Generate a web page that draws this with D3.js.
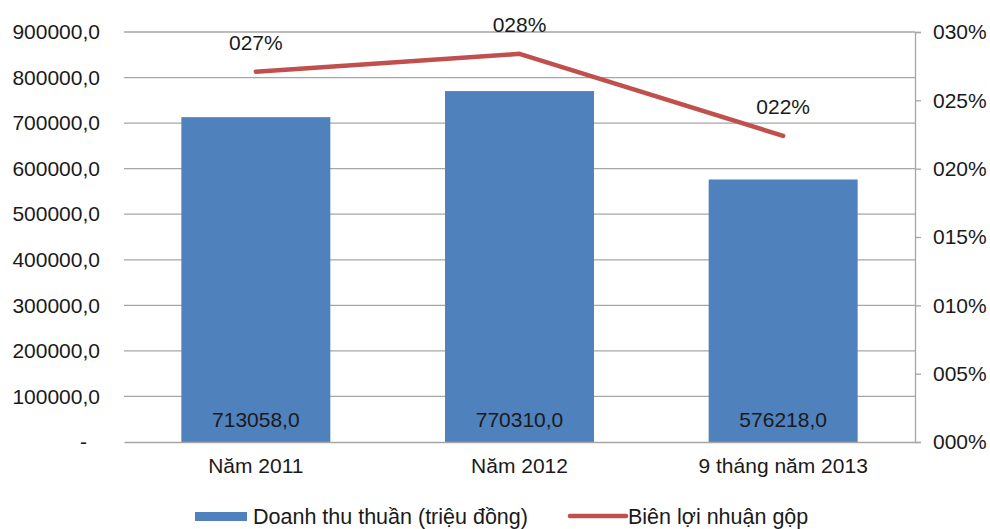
<!DOCTYPE html>
<html>
<head>
<meta charset="utf-8">
<script src="https://cdn.jsdelivr.net/npm/d3@7"></script>
<style>
  body { margin: 0; background: #fff; }
  text { font-family: "Liberation Sans", Arial, sans-serif; fill: #1a1a1a; }
</style>
</head>
<body>
<svg></svg>
<script>
let categories = ['Năm 2011', 'Năm 2012', '9 tháng năm 2013']
let revenue = [713058, 770310, 576218]
let margin = [0.271, 0.284, 0.224]
let leftTicks = [0, 100000, 200000, 300000, 400000, 500000, 600000, 700000, 800000, 900000]
let rightTicks = [0, 0.05, 0.10, 0.15, 0.20, 0.25, 0.30]
let legendLabels = ['Doanh thu thuần (triệu đồng)', 'Biên lợi nhuận gộp']

let width = 990
let height = 529
let plotLeft = 124
let plotRight = 915
let plotTop = 32
let plotBottom = 442

let svg = d3.select('svg')
   .attr('width', width)
   .attr('height', height)

let xScale = d3.scaleBand()
   .domain(categories)
   .range([plotLeft, plotRight])
   .paddingInner(0.435)
   .paddingOuter(0.2175)

let yScale = d3.scaleLinear()
   .domain([0, 900000])
   .range([plotBottom, plotTop])

let y2Scale = d3.scaleLinear()
   .domain([0, 0.30])
   .range([plotBottom, plotTop])

let pct = (v) => String(Math.round(v * 100)).padStart(3, '0') + '%'

// gridlines
svg.append('g')
   .selectAll('line')
   .data(leftTicks.slice(1))
   .enter()
   .append('line')
   .attr('x1', plotLeft)
   .attr('x2', plotRight)
   .attr('y1', (d) => yScale(d))
   .attr('y2', (d) => yScale(d))
   .attr('stroke', '#a6a6a6')
   .attr('stroke-width', 1.3)

// left axis
let yAxis = d3.axisLeft(yScale)
   .tickValues(leftTicks)
   .tickSize(0)
   .tickPadding(24)
   .tickFormat((d) => d === 0 ? '-' : d + ',0')

let gy = svg.append('g')
   .attr('transform', 'translate(' + plotLeft + ', 0)')
   .call(yAxis)
gy.select('.domain').remove()
gy.selectAll('text')
  .style('font-size', '21px')
  .attr('fill', '#1a1a1a')
gy.selectAll('.tick')
  .filter((d) => d === 0)
  .select('text')
  .attr('dx', -13)

// right axis
let y2Axis = d3.axisRight(y2Scale)
   .tickValues(rightTicks)
   .tickSize(6)
   .tickPadding(12)
   .tickFormat(pct)

let gy2 = svg.append('g')
   .attr('transform', 'translate(' + plotRight + ', 0)')
   .call(y2Axis)
gy2.select('.domain').attr('stroke', '#a6a6a6').attr('stroke-width', 1.3)
gy2.selectAll('line').attr('stroke', '#a6a6a6').attr('stroke-width', 1.3)
gy2.selectAll('text')
   .style('font-size', '21px')
   .attr('fill', '#1a1a1a')

// bars
svg.selectAll('rect.bar')
   .data(revenue)
   .enter()
   .append('rect')
   .attr('class', 'bar')
   .attr('x', (d, i) => xScale(categories[i]))
   .attr('width', xScale.bandwidth())
   .attr('y', (d) => yScale(d))
   .attr('height', (d) => yScale(0) - yScale(d))
   .attr('fill', '#4f81bd')

svg.selectAll('text.barlabel')
   .data(revenue)
   .enter()
   .append('text')
   .attr('class', 'barlabel')
   .attr('x', (d, i) => xScale(categories[i]) + xScale.bandwidth() / 2)
   .attr('y', plotBottom - 15)
   .attr('text-anchor', 'middle')
   .style('font-size', '21px')
   .text((d) => d + ',0')

// bottom axis
let xAxis = d3.axisBottom(xScale)
   .tickSize(0)
   .tickPadding(16)

let gx = svg.append('g')
   .attr('transform', 'translate(0, ' + plotBottom + ')')
   .call(xAxis)
gx.select('.domain').attr('stroke', '#a6a6a6').attr('stroke-width', 1.3)
gx.selectAll('text')
  .style('font-size', '21px')
  .attr('fill', '#1a1a1a')

// line
let line = d3.line()
   .x((d, i) => xScale(categories[i]) + xScale.bandwidth() / 2)
   .y((d) => y2Scale(d))

svg.append('path')
   .datum(margin)
   .attr('d', line)
   .attr('fill', 'none')
   .attr('stroke', '#c0504d')
   .attr('stroke-width', 4.5)
   .attr('stroke-linecap', 'round')
   .attr('stroke-linejoin', 'round')

svg.selectAll('text.linelabel')
   .data(margin)
   .enter()
   .append('text')
   .attr('class', 'linelabel')
   .attr('x', (d, i) => xScale(categories[i]) + xScale.bandwidth() / 2)
   .attr('y', (d) => y2Scale(d) - 22)
   .attr('text-anchor', 'middle')
   .style('font-size', '21px')
   .text(pct)

// legend
let legend = svg.append('g')

legend.append('rect')
   .attr('x', 195)
   .attr('y', 512)
   .attr('width', 52)
   .attr('height', 9)
   .attr('fill', '#4f81bd')

legend.append('text')
   .attr('x', 253)
   .attr('y', 524)
   .style('font-size', '21.5px')
   .text(legendLabels[0])

legend.append('line')
   .attr('x1', 570)
   .attr('x2', 626)
   .attr('y1', 516)
   .attr('y2', 516)
   .attr('stroke', '#c0504d')
   .attr('stroke-width', 4.5)
   .attr('stroke-linecap', 'round')

legend.append('text')
   .attr('x', 628)
   .attr('y', 524)
   .style('font-size', '21.5px')
   .text(legendLabels[1])
</script>
</body>
</html>
